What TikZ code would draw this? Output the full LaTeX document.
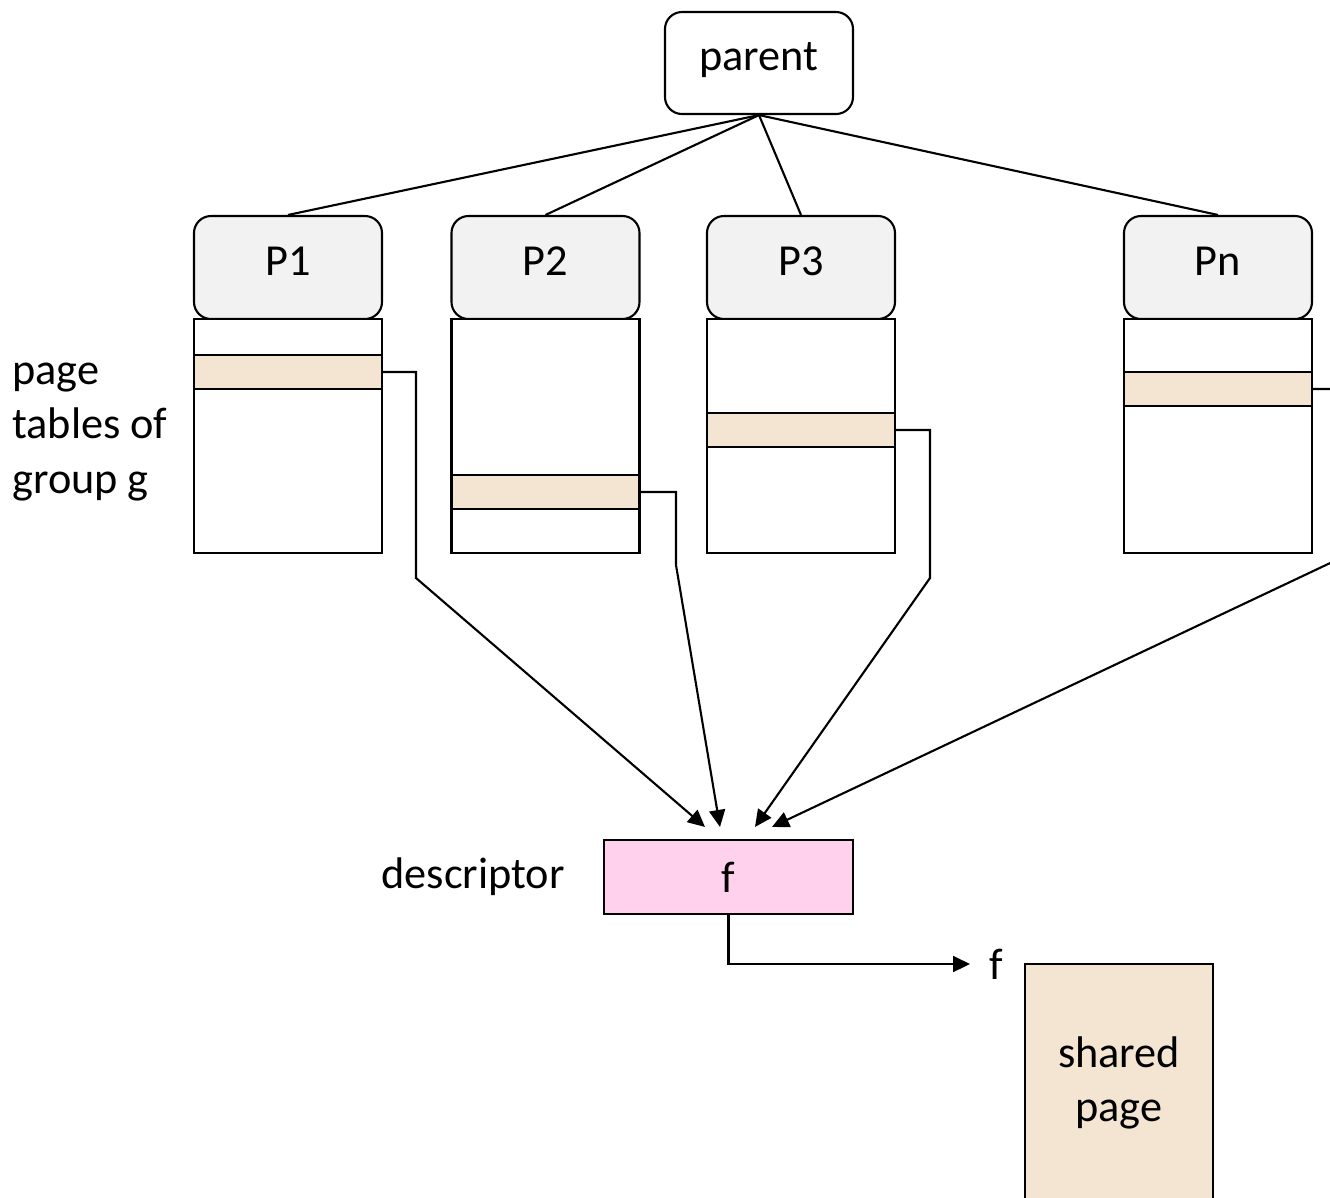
\documentclass[tikz,border=0pt]{standalone}
\usepackage{fontspec}
\setmainfont{Carlito}
\usetikzlibrary{arrows.meta}

\definecolor{procgray}{RGB}{242,242,242}
\definecolor{pagetan}{RGB}{244,229,211}
\definecolor{descpink}{RGB}{255,209,236}

\newcommand\procwidth{1.88}
\newcommand\proclevel{-2.675}
\newcommand\tablelevel{-4.36}
\newcommand\proc[4]{
  \node[procbox] (#1) at (#2, \proclevel) {#3};
  \node[tablebox] (#1tab) at (#2, \tablelevel) {};
  \node[rowbox] (#1row) at (#2, #4) {};
}

\tikzset{
  line/.style={line width=0.6pt},
  fwd/.style={line, -{Triangle[length=0.17cm, width=0.16cm]}},
  parentbox/.style={draw, line, rounded corners=0.17cm, minimum width=1.88cm,
    minimum height=1.02cm, text height=0.30cm, text depth=0.15cm},
  procbox/.style={draw, line, rounded corners=0.17cm, fill=procgray,
    minimum width=\procwidth cm, minimum height=1.03cm,
    text height=0.30cm, text depth=0.15cm},
  tablebox/.style={draw, line, fill=white, minimum width=\procwidth cm, minimum height=2.34cm},
  rowbox/.style={draw, line, fill=pagetan, minimum width=\procwidth cm, minimum height=0.34cm},
  descbox/.style={draw, line, fill=descpink, minimum width=2.49cm, minimum height=0.74cm},
  pagebox/.style={draw, line, fill=pagetan, minimum width=1.88cm, minimum height=2.38cm, align=center}
}

\begin{document}
\begin{tikzpicture}[font=\fontsize{12.6pt}{15.6pt}\selectfont]
  \useasboundingbox (0,0) rectangle (13.3,-11.97);
  \clip (0,0) rectangle (13.3,-11.97);

  % process tree
  \node[parentbox] (parent) at (7.59,-0.63) {parent};
  \proc{p1}{2.88}{P1}{-3.72}
  \proc{p2}{5.455}{P2}{-4.92}
  \proc{p3}{8.01}{P3}{-4.30}
  \proc{pn}{12.18}{Pn}{-3.89}
  \foreach \p in {p1,p2,p3,pn}
    \draw[line] (parent.south) -- (\p.north);

  \node[anchor=west, align=left] (grouplabel) at (0.0,-4.32) {page\\tables of\\group g};

  % descriptor
  \node[descbox] (desc) at (7.285,-8.77) {f};
  \node (desclabel) at (4.73,-8.77) {descriptor};

  \coordinate (t1) at ([xshift=-0.235cm, yshift=0.12cm]desc.north);
  \coordinate (t2) at ([xshift=-0.085cm, yshift=0.12cm]desc.north);
  \coordinate (t3) at ([xshift=0.265cm, yshift=0.12cm]desc.north);
  \coordinate (tn) at ([xshift=0.435cm, yshift=0.12cm]desc.north);
  \coordinate (k1) at (4.16,-5.78);
  \coordinate (k2) at (6.76,-5.65);
  \coordinate (k3) at (9.30,-5.78);
  \coordinate (kn) at (13.45,-5.56);

  \draw[fwd] (p1row.east) -| (k1) -- (t1);
  \draw[fwd] (p2row.east) -| (k2) -- (t2);
  \draw[fwd] (p3row.east) -| (k3) -- (t3);
  \draw[fwd] (pnrow.east) -| (kn) -- (tn);

  % shared page
  \node (flabel) at (9.96,-9.64) {f};
  \coordinate (fend) at (9.70,-9.64);
  \draw[fwd] (desc.south) |- (fend);
  \node[pagebox] (shared) at (11.19,-10.83) {shared\\page};
\end{tikzpicture}
\end{document}
